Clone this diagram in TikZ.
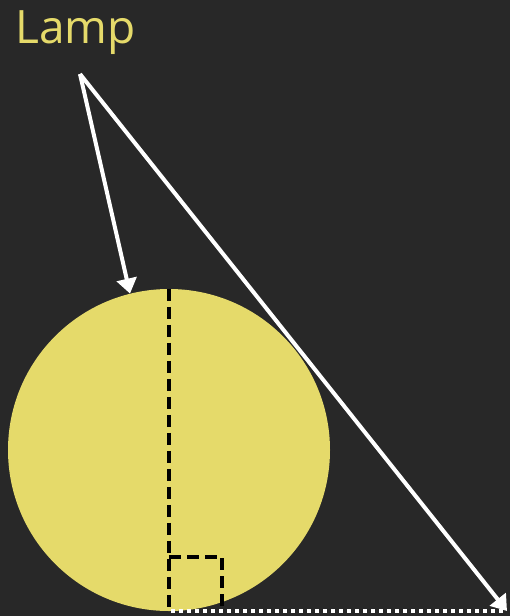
\documentclass[tikz,border=0pt]{standalone}
\usepackage{fontspec}
\setmainfont{Open Sans}
\usetikzlibrary{positioning,arrows.meta,calc}
\definecolor{bgdark}{HTML}{282828}
\definecolor{lampyellow}{HTML}{E5DA6A}
\tikzset{
ray/.style={
draw=white,
line width=4pt,
-{Triangle[length=15pt,width=20pt]}
},
dashline/.style={
draw=black,
line width=4pt,
dash pattern=on 12pt off 6pt
},
dotline/.style={
draw=white,
line width=4pt,
dash pattern=on 4pt off 4pt
}
}
\begin{document}
\begin{tikzpicture}[x=1pt,y=-1pt]
\useasboundingbox[fill=bgdark](0,0) rectangle (510,616);
\node[font=\fontsize{46}{50}\selectfont,text=lampyellow,anchor=base west,inner sep=0pt](lamp) at (15,43){Lamp};
\coordinate(src) at (80,74);
\node[circle,fill=lampyellow,minimum size=322pt,inner sep=0pt](ball) at (169,450){};
\coordinate(foot) at (169,611);
\coordinate(floor) at (507,611);

\draw[ray](src)--(ball.104);
\draw[ray](src)--(floor);

\draw[dashline](ball.north)--(foot);
\draw[dashline]($(foot)+(0,-54)$) -| ($(foot)+(53,0)$);
\draw[dotline]($(foot)+(2,0)$)--($(floor)+(-4,0)$);
\end{tikzpicture}
\end{document}
